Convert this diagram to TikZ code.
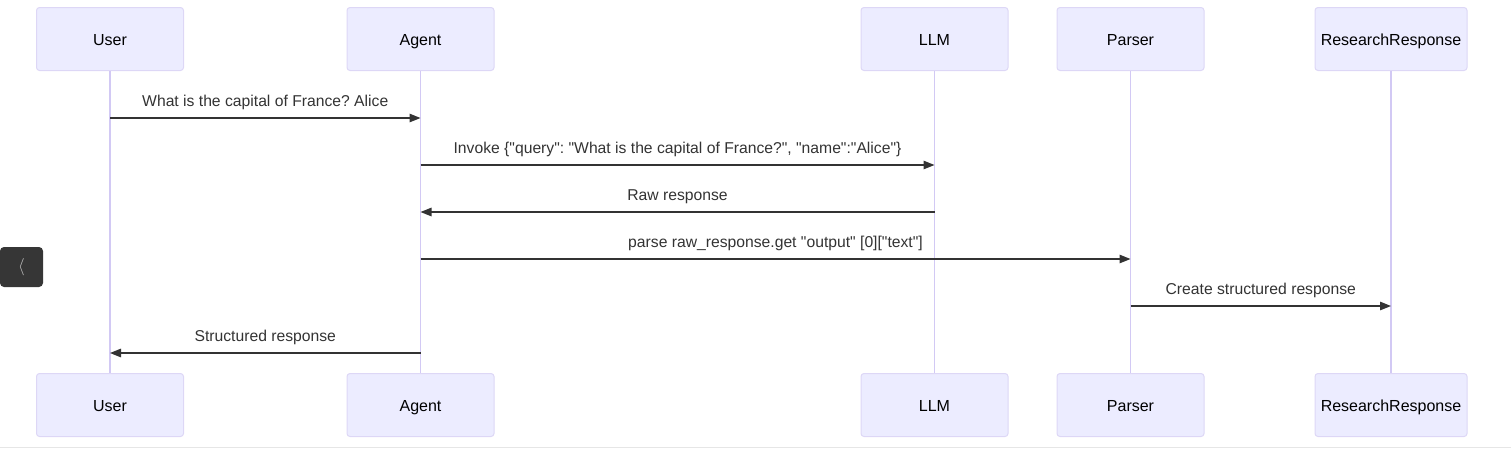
\documentclass[tikz,border=0pt]{standalone}
\usepackage{fontspec}
\setmainfont{Liberation Sans}[Ligatures=TeXOff]
\frenchspacing
\usetikzlibrary{arrows.meta}
\definecolor{actorFill}{HTML}{ECECFF}
\definecolor{actorLine}{HTML}{DDD7F6}
\definecolor{lifeLine}{HTML}{D2C9F4}
\definecolor{msgGray}{HTML}{333333}
\definecolor{btnGray}{HTML}{363636}
\definecolor{rule}{HTML}{E6E6E6}

\begin{document}
\begin{tikzpicture}[x=1pt,y=-1pt,
  actor/.style={draw=actorLine, fill=actorFill, line width=1pt, rounded corners=3pt,
    minimum width=147pt, minimum height=63pt, inner sep=0pt, text height=14pt, text depth=0.5pt,
    font=\fontsize{16}{19}\selectfont},
  life/.style={draw=lifeLine, line width=1.5pt},
  msg/.style={draw=msgGray, line width=1.3pt, -{Triangle[length=11pt,width=8.5pt]}},
  msgtext/.style={font=\fontsize{15.7}{19}\selectfont, text=msgGray, anchor=base, yshift=12pt}]
\useasboundingbox (0,0) rectangle (1511,456);

% actors, top and bottom
\node[actor] (userTop) at (110,39) {User};
\node[actor] (agentTop) at (420.5,39) {Agent};
\node[actor] (llmTop) at (934.5,39) {LLM};
\node[actor] (parserTop) at (1130.5,39) {Parser};
\node[actor, minimum width=152pt] (resTop) at (1391,39) {ResearchResponse};
\node[actor] (userBot) at (110,405) {User};
\node[actor] (agentBot) at (420.5,405) {Agent};
\node[actor] (llmBot) at (934.5,405) {LLM};
\node[actor] (parserBot) at (1130.5,405) {Parser};
\node[actor, minimum width=152pt] (resBot) at (1391,405) {ResearchResponse};

% lifelines
\draw[life] (userTop) -- (userBot);
\draw[life] (agentTop) -- (agentBot);
\draw[life] (llmTop) -- (llmBot);
\draw[life] (parserTop) -- (parserBot);
\draw[life] (resTop) -- (resBot);

% message rows
\coordinate (row1) at (0,118);
\coordinate (row2) at (0,165);
\coordinate (row3) at (0,212);
\coordinate (row4) at (0,259);
\coordinate (row5) at (0,306);
\coordinate (row6) at (0,353);

\draw[msg] (userTop |- row1) -- (agentTop |- row1) node[midway,msgtext]{What is the capital of France? Alice};
\draw[msg] (agentTop |- row2) -- (llmTop |- row2) node[midway,msgtext]{Invoke \{"query": "What is the capital of France?", "name":"Alice"\}};
\draw[msg] (llmTop |- row3) -- (agentTop |- row3) node[midway,msgtext]{Raw response};
\draw[msg] (agentTop |- row4) -- (parserTop |- row4) node[midway,msgtext]{parse raw\_response.get "output" [0]["text"]};
\draw[msg] (parserTop |- row5) -- (resTop |- row5) node[midway,msgtext]{Create structured response};
\draw[msg] (agentTop |- row6) -- (userTop |- row6) node[midway,msgtext]{Structured response};

% side button and bottom rule
\node[fill=btnGray, rounded corners=4pt, minimum width=43pt, minimum height=40pt, inner sep=0pt,
  text=white!75!black, font=\fontsize{18}{20}\selectfont] (backBtn) at (21.5,267) {$\langle$};
\draw[rule, line width=1pt] (0,447) -- (1511,447);
\end{tikzpicture}
\end{document}
